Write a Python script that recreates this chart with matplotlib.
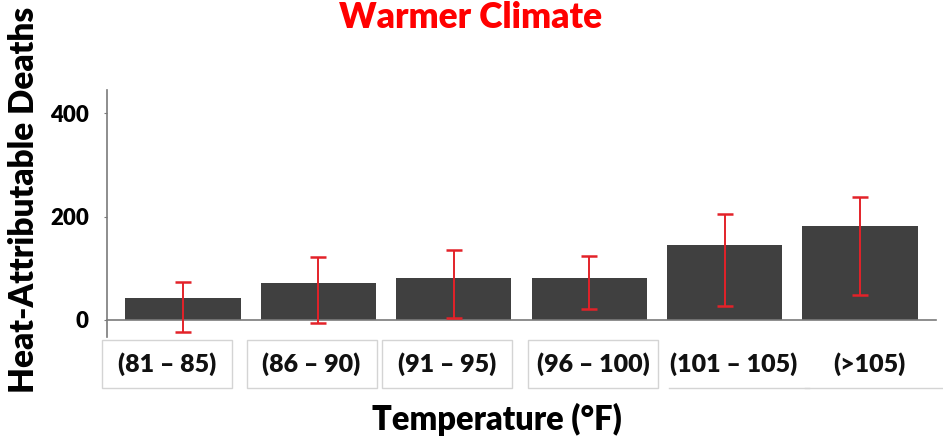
import matplotlib
matplotlib.use("Agg")
import matplotlib.pyplot as plt
import matplotlib.transforms as mtransforms
from matplotlib.patches import Rectangle
from matplotlib.lines import Line2D

# ---- data ----
categories = ["(81 – 85)", "(86 – 90)", "(91 – 95)", "(96 – 100)", "(101 – 105)", "(>105)"]
deaths = [42, 72, 82, 82, 146, 181]
err_low = [-24, -6, 3, 22, 27, 49]      # lower end of red error bar
err_high = [73, 121, 135, 123, 205, 237]  # upper end of red error bar
yticks = [0, 200, 400]
title = "Warmer Climate"
ylabel = "Heat-Attributable Deaths"
xlabel = "Temperature (°F)"

# ---- layout / style ----
label_shift = [-0.12, -0.05, -0.05, 0.03, 0.07, 0.07]  # label offsets from bar centres
FONT = ["Lato", "DejaVu Sans"]
WEIGHT = "heavy"
W, H = 943, 438
fig = plt.figure(figsize=(W / 100, H / 100), dpi=100)
ax = fig.add_axes([107 / W, (H - 337) / H, (936 - 107) / W, (337 - 90) / H])

x = list(range(len(categories)))
ax.bar(x, deaths, width=0.85, color="#404040", zorder=2)
lower = [d - lo for d, lo in zip(deaths, err_low)]
upper = [hi - d for d, hi in zip(deaths, err_high)]
ax.errorbar(x, deaths, yerr=[lower, upper], fmt="none", ecolor="#e32229",
            elinewidth=1.4, capsize=6, capthick=1.8, zorder=3)

ax.set_xlim(-0.561, 5.561)
ax.set_ylim(-33, 445)
for s in ["top", "right"]:
    ax.spines[s].set_visible(False)
ax.spines["bottom"].set_position(("data", 0))
ax.spines["bottom"].set_color("#7a7a7a")
ax.spines["left"].set_color("#7a7a7a")
ax.spines["bottom"].set_linewidth(1.2)
ax.spines["left"].set_linewidth(1.2)
ax.set_xticks([])
ax.set_yticks(yticks)
ax.set_yticklabels([str(t) for t in yticks], fontsize=16, fontweight=WEIGHT,
                   family=FONT)
ax.tick_params(axis="y", length=2, color="#7a7a7a", pad=11)

# x category labels in boxes
trans = mtransforms.blended_transform_factory(ax.transData, fig.transFigure)
for i, (lab, sh) in enumerate(zip(categories, label_shift)):
    ax.text(i + sh, 1 - 364 / H, lab, transform=trans, ha="center", va="center",
            fontsize=18, fontweight=WEIGHT, family=FONT, color="#111111")
    # box around label
    xc_disp = ax.transData.transform((i + sh, 0))[0]
    x0 = (xc_disp - 65) / W
    y0 = (H - 388) / H
    w = 130 / W
    h = 48 / H
    if i < 4:
        fig.patches.append(Rectangle((x0, y0), w, h, transform=fig.transFigure,
                                     fill=False, edgecolor="#d4d4d4", linewidth=1))
    else:
        fig.lines.append(Line2D([x0, x0 + w + 0.01], [y0, y0], transform=fig.transFigure,
                                color="#d4d4d4", linewidth=1))

fig.text(471 / W, 1 - 17 / H, title, ha="center", va="center", color="#ff0000",
         fontsize=25.5, fontweight=WEIGHT, family=FONT)
fig.text(24 / W, 1 - 200 / H, ylabel, ha="center", va="center", rotation=90,
         fontsize=24, fontweight=WEIGHT, family=FONT, color="#000000")
fig.text(497 / W, 1 - 419 / H, xlabel, ha="center", va="center",
         fontsize=23.5, fontweight=WEIGHT, family=FONT, color="#000000")

fig.savefig("out.png", dpi=100)
